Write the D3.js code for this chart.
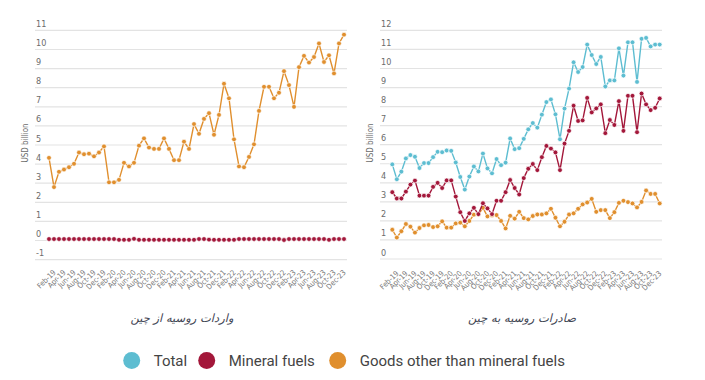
<!DOCTYPE html>
<html><head><meta charset="utf-8">
<script src="https://cdn.jsdelivr.net/npm/d3@7"></script>
<style>
body{margin:0;background:#fff;}
svg{display:block;}
</style></head>
<body>
<svg id="chart" width="705" height="380"></svg>
<script>
const months = ["Jan-19","Feb-19","Mar-19","Apr-19","May-19","Jun-19","Jul-19","Aug-19","Sep-19","Oct-19","Nov-19","Dec-19",
"Jan-20","Feb-20","Mar-20","Apr-20","May-20","Jun-20","Jul-20","Aug-20","Sep-20","Oct-20","Nov-20","Dec-20",
"Jan-21","Feb-21","Mar-21","Apr-21","May-21","Jun-21","Jul-21","Aug-21","Sep-21","Oct-21","Nov-21","Dec-21",
"Jan-22","Feb-22","Mar-22","Apr-22","May-22","Jun-22","Jul-22","Aug-22","Sep-22","Oct-22","Nov-22","Dec-22",
"Jan-23","Feb-23","Mar-23","Apr-23","May-23","Jun-23","Jul-23","Aug-23","Sep-23","Oct-23","Nov-23","Dec-23"];
const tickLabels = ["Feb-19","Apr-19","Jun-19","Aug-19","Oct-19","Dec-19","Feb-20","Apr-20","Jun-20","Aug-20","Oct-20","Dec-20",
"Feb-21","Apr-21","Jun-21","Aug-21","Oct-21","Dec-21","Feb-22","Apr-22","Jun-22","Aug-22","Oct-22","Dec-22",
"Feb-23","Apr-23","Jun-23","Aug-23","Oct-23","Dec-23"];

// Left panel: Russian imports from China
const importsOther = [4.30,2.77,3.57,3.69,3.81,3.99,4.58,4.49,4.52,4.38,4.58,4.90,
3.02,3.02,3.15,4.04,3.85,4.04,4.94,5.32,4.84,4.77,4.77,5.32,
4.77,4.18,4.18,5.15,4.77,6.07,5.56,6.34,6.64,5.51,6.55,8.18,
7.42,5.27,3.85,3.81,4.35,5.01,6.76,8.02,8.02,7.42,7.71,8.84,
8.11,6.97,9.05,9.64,9.29,9.58,10.29,9.32,9.67,8.72,10.29,10.75];
const importsFuels = [0.05,0.05,0.05,0.05,0.05,0.05,0.05,0.05,0.05,0.05,0.05,0.05,
0.05,0.05,0.01,0.01,0.01,0.06,0.01,0.01,0.01,0.01,0.01,0.01,
0.01,0.01,0.01,0.01,0.01,0.01,0.05,0.05,0.02,0.01,0.01,0.01,
0.01,0.01,0.05,0.05,0.05,0.05,0.05,0.05,0.05,0.05,0.05,0.0,
0.05,0.05,0.05,0.05,0.05,0.05,0.05,0.05,0.01,0.05,0.05,0.05];

// Right panel: Russian exports to China
const exportsTotal = [4.94,4.16,4.56,5.25,5.43,5.34,4.75,5.01,5.01,5.32,5.60,5.58,
5.67,5.65,5.04,4.28,3.62,4.30,4.83,4.57,5.51,4.73,4.47,5.22,
4.90,5.03,6.30,5.74,5.79,6.28,6.78,7.11,6.87,7.55,8.21,8.35,
7.57,6.26,7.87,8.92,10.30,9.79,10.05,11.23,10.68,10.21,10.58,9.03,
9.35,9.35,11.03,9.60,11.35,11.35,9.27,11.53,11.58,11.13,11.23,11.23];
const exportsFuels = [3.48,3.15,3.15,3.51,3.88,4.09,3.30,3.30,3.30,3.76,3.97,3.70,
4.10,4.10,3.25,2.43,1.97,2.37,2.66,2.33,2.90,2.63,2.33,3.03,
3.03,3.48,4.12,3.70,3.36,4.22,4.71,4.96,4.64,5.32,5.91,5.77,
5.57,4.64,6.03,6.70,8.02,7.22,7.25,8.43,7.67,7.88,8.09,6.58,
7.27,7.01,8.26,6.70,8.54,8.54,6.63,8.66,8.09,7.79,7.91,8.40];
const exportsOther = [1.51,1.10,1.43,1.81,1.67,1.36,1.60,1.74,1.76,1.65,1.69,1.95,
1.62,1.62,1.84,1.88,1.69,1.97,2.30,2.31,2.66,2.21,2.26,2.28,
1.97,1.58,2.24,2.09,2.45,2.12,2.05,2.23,2.31,2.31,2.37,2.61,
2.14,1.69,1.93,2.31,2.37,2.61,2.84,2.94,3.13,2.45,2.54,2.54,
2.12,2.43,2.92,3.03,2.96,2.89,2.68,2.97,3.57,3.39,3.39,2.89];

const leftTicks = [-1,0,1,2,3,4,5,6,7,8,9,10,11];
const rightTicks = [0,1,2,3,4,5,6,7,8,9,10,11,12];
const legendNames = ["Total","Mineral fuels","Goods other than mineral fuels"];
const titles = ["واردات روسیه از چین","صادرات روسیه به چین"];

const C = {total:"#5dbdd1", fuels:"#a3173a", other:"#e08f2e"};
const svg = d3.select("#chart");
const axisFont = "'Liberation Sans Narrow','DejaVu Sans Condensed','Liberation Sans',sans-serif";

function panel(cfg){
  const g = svg.append("g");
  const x = d3.scalePoint().domain(months).range([cfg.x0, cfg.x1]);
  const y = d3.scaleLinear().domain(cfg.yDomain).range(cfg.yRange);
  // grid + y labels
  const ga = g.append("g").attr("transform",`translate(${cfg.gx0},0)`)
    .call(d3.axisRight(y).tickValues(cfg.ticks).tickSize(cfg.gx1-cfg.gx0).tickFormat(d=>String(d)));
  ga.select(".domain").remove();
  ga.selectAll(".tick line").attr("stroke","#e3e3e3").attr("stroke-width",1.2);
  ga.selectAll(".tick text").attr("x",1).attr("dy",-3.5).attr("text-anchor","start")
    .attr("fill","#6b6b6b").style("font-family",axisFont).style("font-size","9px");
  // x axis labels
  const xa = g.append("g").attr("transform",`translate(0,${cfg.xLabelY})`)
    .call(d3.axisBottom(x).tickValues(months.filter(m=>tickLabels.includes(m))).tickSize(0));
  xa.select(".domain").remove();
  xa.selectAll(".tick text").attr("y",0).attr("dy","0.35em").attr("x",0)
    .attr("text-anchor","end").attr("transform","rotate(-45)")
    .attr("fill","#777").style("font-family",axisFont).style("font-size","7.5px");
  // y title
  g.append("text").attr("transform",`translate(${cfg.titleX},143) rotate(-90)`)
    .attr("text-anchor","middle").attr("fill","#6b6b6b")
    .style("font-family",axisFont).style("font-size","8px").text("USD billion");
  // series
  cfg.series.forEach(s=>{
    const line = d3.line().x((d,i)=>x(months[i])).y(d=>y(d));
    g.append("path").datum(s.values).attr("d",line).attr("fill","none")
      .attr("stroke",s.color).attr("stroke-width",1.4);
    g.append("g").selectAll("circle").data(s.values).join("circle")
      .attr("cx",(d,i)=>x(months[i])).attr("cy",d=>y(d)).attr("r",2.4)
      .attr("fill",s.color).attr("stroke","#fff").attr("stroke-width",0.7);
  });
  // bottom title
  g.append("text").attr("x",cfg.capX).attr("y",322).attr("text-anchor","middle")
    .attr("fill","#3f4653").style("font-family","'DejaVu Sans',sans-serif")
    .style("font-size","11.5px").style("font-style","italic").text(cfg.caption);
}

panel({x0:49,x1:344,gx0:35,gx1:347,yDomain:[-1,11],yRange:[259.1,29.9],ticks:leftTicks,
  xLabelY:271,titleX:28,capX:182,caption:titles[0],
  series:[{values:importsFuels,color:C.fuels},{values:importsOther,color:C.other}]});
panel({x0:392.3,x1:659.7,gx0:380,gx1:662,yDomain:[0,12],yRange:[258.5,29.9],ticks:rightTicks,
  xLabelY:272,titleX:373,capX:522,caption:titles[1],
  series:[{values:exportsOther,color:C.other},{values:exportsFuels,color:C.fuels},{values:exportsTotal,color:C.total}]});

// legend
const lg = svg.append("g");
const legColors = [C.total,C.fuels,C.other];
const legX = [131.7,206.7,337.7];
legendNames.forEach((n,i)=>{
  lg.append("circle").attr("cx",legX[i]).attr("cy",360.5).attr("r",8.5).attr("fill",legColors[i]);
  lg.append("text").attr("x",legX[i]+22).attr("y",366).attr("fill","#444")
    .style("font-family","Roboto,sans-serif").style("font-size","15px").text(n);
});
</script>
</body></html>
